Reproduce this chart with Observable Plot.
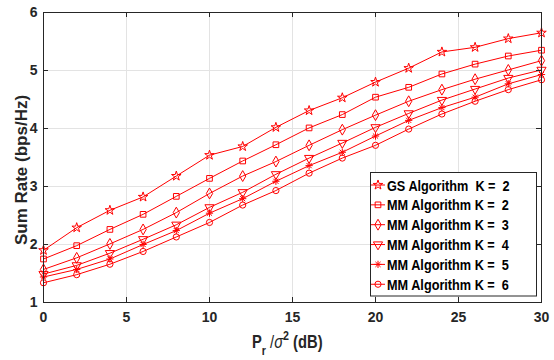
<!DOCTYPE html>
<html><head><meta charset="utf-8">
<script src="https://cdn.jsdelivr.net/npm/d3@7"></script>
<script src="https://cdn.jsdelivr.net/npm/@observablehq/plot@0.6"></script>
<style>
body{margin:0;background:#fff;}
#chart{position:relative;width:554px;height:360px;}
</style>
</head><body><div id="chart"></div>
<script>
// ---- data ----
const snrDb = [0, 2, 4, 6, 8, 10, 12, 14, 16, 18, 20, 22, 24, 26, 28, 30];
const gsK2 = [1.90, 2.29, 2.59, 2.82, 3.18, 3.54, 3.69, 4.02, 4.31, 4.53, 4.80, 5.04, 5.32, 5.40, 5.55, 5.65];
const mmK2 = [1.75, 1.98, 2.26, 2.52, 2.83, 3.14, 3.44, 3.72, 4.01, 4.24, 4.54, 4.71, 4.94, 5.11, 5.25, 5.35];
const mmK3 = [1.57, 1.77, 2.01, 2.26, 2.55, 2.88, 3.18, 3.43, 3.71, 3.98, 4.23, 4.47, 4.67, 4.85, 5.01, 5.17];
const mmK4 = [1.49, 1.64, 1.85, 2.09, 2.34, 2.64, 2.90, 3.21, 3.49, 3.75, 4.02, 4.26, 4.49, 4.68, 4.87, 5.01];
const mmK5 = [1.44, 1.57, 1.75, 2.00, 2.24, 2.54, 2.79, 3.09, 3.36, 3.59, 3.87, 4.14, 4.36, 4.54, 4.77, 4.93];
const mmK6 = [1.34, 1.48, 1.66, 1.88, 2.13, 2.38, 2.68, 2.93, 3.23, 3.49, 3.71, 3.99, 4.25, 4.47, 4.67, 4.84];
const seriesNames = ["GS Algorithm  K =  2", "MM Algorithm K =  2", "MM Algorithm K =  3",
                     "MM Algorithm K =  4", "MM Algorithm K =  5", "MM Algorithm K =  6"];
const xTicks = [0, 5, 10, 15, 20, 25, 30];
const yTicks = [1, 2, 3, 4, 5, 6];
const xLabel = ["P", "r", " /", "σ", "2", " (dB)"];
const yLabel = "Sum Rate (bps/Hz)";

// ---- symbols ----
const triangleDown = {draw(ctx, size) {
  const y = -Math.sqrt(size / (Math.sqrt(3) * 3));
  ctx.moveTo(0, -2 * y); ctx.lineTo(-Math.sqrt(3) * y, y); ctx.lineTo(Math.sqrt(3) * y, y); ctx.closePath();
}};
const asterisk8 = {draw(ctx, size) {
  const r = Math.sqrt(size) * 0.62, d = r * Math.SQRT1_2;
  ctx.moveTo(0, -r); ctx.lineTo(0, r); ctx.moveTo(-r, 0); ctx.lineTo(r, 0);
  ctx.moveTo(-d, -d); ctx.lineTo(d, d); ctx.moveTo(-d, d); ctx.lineTo(d, -d);
}};
const symbols = [d3.symbolStar, d3.symbolSquare, d3.symbolDiamond, triangleDown, asterisk8, d3.symbolCircle];
const symR = [3.0, 3.2, 3.3, 3.4, 3.3, 3.1];
const allSeries = [gsK2, mmK2, mmK3, mmK4, mmK5, mmK6];
const RED = "#ff0000";

const W = 554, H = 360, mL = 43, mR = 13, mT = 12, mB = 58;
const fw = W - mL - mR, fh = H - mT - mB;

const marks = [
  Plot.gridX(xTicks, {stroke: "#e3e3e3", strokeOpacity: 1, strokeWidth: 1}),
  Plot.gridY(yTicks, {stroke: "#e3e3e3", strokeOpacity: 1, strokeWidth: 1})
];
allSeries.forEach((vals, i) => {
  const table = snrDb.map((x, j) => ({x, y: vals[j]}));
  marks.push(Plot.line(table, {x: "x", y: "y", stroke: RED, strokeWidth: 1}));
  marks.push(Plot.dot(table, {x: "x", y: "y", symbol: symbols[i], r: symR[i], stroke: RED, fill: "none", strokeWidth: 1}));
});
marks.push(
  Plot.tickX(xTicks, {x: d => d, insetTop: fh - 5, stroke: "#262626"}),
  Plot.tickX(xTicks, {x: d => d, insetBottom: fh - 5, stroke: "#262626"}),
  Plot.tickY(yTicks, {y: d => d, insetRight: fw - 5, stroke: "#262626"}),
  Plot.tickY(yTicks, {y: d => d, insetLeft: fw - 5, stroke: "#262626"}),
  Plot.frame({stroke: "#262626", strokeWidth: 1}),
  Plot.axisX(xTicks, {tickSize: 0, tickPadding: 10, fontSize: 14, fontWeight: "bold", label: null, fill: "#262626", tickFormat: d3.format("d")}),
  Plot.axisY(yTicks, {tickSize: 0, tickPadding: 6, fontSize: 14, fontWeight: "bold", label: null, fill: "#262626", tickFormat: d3.format("d")})
);

const chart = Plot.plot({
  width: W, height: H, marginLeft: mL, marginRight: mR, marginTop: mT, marginBottom: mB,
  x: {domain: [0, 30]}, y: {domain: [1, 6]},
  style: {fontFamily: "'Liberation Sans', Arial, sans-serif", background: "#fff", color: "#262626"},
  marks
});
document.getElementById("chart").appendChild(chart);

const svg = d3.select(chart);
// y label
svg.append("text").attr("transform", "translate(21,170) rotate(-90)")
  .attr("text-anchor", "middle").attr("dy", "0.35em")
  .style("font", "bold 17px 'Liberation Sans', Arial, sans-serif").attr("fill", "#262626")
  .text(yLabel);
// x label
const xl = svg.append("g").attr("transform", "translate(252,348) scale(0.82,1)");
const xt = xl.append("text").attr("text-anchor", "start").style("font", "bold 18px 'Liberation Sans', Arial, sans-serif")
  .attr("fill", "#262626").style("white-space", "pre");
xt.append("tspan").text(xLabel[0]);
xt.append("tspan").attr("dy", 7).style("font-size", "13px").text(xLabel[1]);
xt.append("tspan").attr("dy", -7).style("font-weight", "normal").text(xLabel[2]);
xt.append("tspan").style("font-style", "italic").style("font-weight", "normal").text(xLabel[3]);
xt.append("tspan").attr("dy", -8).style("font-size", "13px").text(xLabel[4]);
xt.append("tspan").attr("dy", 8).text(xLabel[5]);

// legend
const lg = svg.append("g");
lg.append("rect").attr("x", 370.5).attr("y", 172.5).attr("width", 166).attr("height", 123.5)
  .attr("fill", "#fff").attr("stroke", "#262626").attr("stroke-width", 1);
seriesNames.forEach((name, i) => {
  const cy = 185 + i * 19.85;
  const row = lg.append("g").attr("transform", `translate(0,${cy})`);
  row.append("line").attr("x1", 371).attr("x2", 385).attr("y1", 0).attr("y2", 0).attr("stroke", RED);
  row.append("path").attr("transform", "translate(378,0)")
    .attr("d", d3.symbol(symbols[i], Math.PI * symR[i] * symR[i])())
    .attr("fill", "none").attr("stroke", RED);
  row.append("text").attr("text-anchor", "start").attr("transform", "translate(387,0) scale(0.82,1)").attr("dy", "0.36em")
    .style("font", "bold 15.5px 'Liberation Sans', Arial, sans-serif").style("white-space", "pre")
    .attr("fill", "#000").text(name);
});
</script>
</body></html>
